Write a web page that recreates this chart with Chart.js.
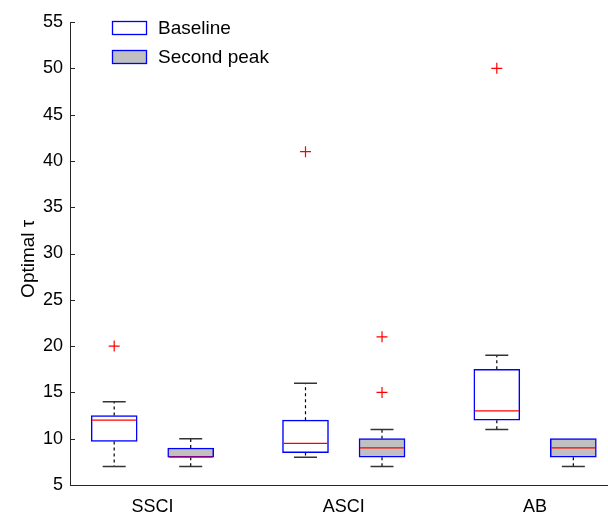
<!DOCTYPE html>
<html>
<head>
<meta charset="utf-8">
<script src="https://cdn.jsdelivr.net/npm/chart.js@4/dist/chart.umd.min.js"></script>
<style>
  html, body { margin: 0; padding: 0; background: #fff; }
  #wrap { width: 608px; height: 518px; position: relative; }
</style>
</head>
<body>
<div id="wrap"><canvas id="chart_optimalTau"></canvas></div>
<script>
var categories = ['SSCI', 'ASCI', 'AB'];
var groupPos = [1, 2, 3];
var boxOffset = 0.2;

var baselineMin = [7, 8, 11];
var baselineQ1 = [9.7, 8.5, 12];
var baselineMedian = [12, 9.5, 13];
var baselineQ3 = [12.5, 12, 17.5];
var baselineMax = [14, 16, 19];
var baselineOutliers = [[20], [41], [50]];

var secondMin = [7, 7, 7];
var secondQ1 = [8, 8, 8];
var secondMedian = [8, 9, 9];
var secondQ3 = [9, 10, 10];
var secondMax = [10, 11, 10];
var secondOutliers = [[], [21, 15], []];

var yTicks = [5, 10, 15, 20, 25, 30, 35, 40, 45, 50, 55];

var FONT = "'Liberation Sans', Arial, Helvetica, sans-serif";
var AXIS_COLOR = '#262626';

function boxData(off, q1, q3) {
  return groupPos.map(function (p, i) { return { x: p + off, y: [q1[i], q3[i]] }; });
}
function outlierData(off, list) {
  var out = [];
  groupPos.forEach(function (p, i) {
    list[i].forEach(function (v) { out.push({ x: p + off, y: v }); });
  });
  return out;
}

var boxPlugin = {
  id: 'boxWhiskers',
  beforeDatasetsDraw: function (chart) {
    var ctx = chart.ctx, ys = chart.scales.y;
    chart.data.datasets.forEach(function (ds, di) {
      if (!ds.stats) return;
      var meta = chart.getDatasetMeta(di);
      meta.data.forEach(function (bar, i) {
        var cx = bar.x, half = bar.width / 4;
        var pMax = ys.getPixelForValue(ds.stats.max[i]);
        var pMin = ys.getPixelForValue(ds.stats.min[i]);
        var pQ1 = ys.getPixelForValue(ds.stats.q1[i]);
        var pQ3 = ys.getPixelForValue(ds.stats.q3[i]);
        ctx.save();
        ctx.strokeStyle = '#000';
        ctx.lineWidth = 1.2;
        ctx.setLineDash([3, 3]);
        ctx.beginPath();
        if (ds.stats.max[i] > ds.stats.q3[i]) { ctx.moveTo(cx, pQ3); ctx.lineTo(cx, pMax); }
        if (ds.stats.min[i] < ds.stats.q1[i]) { ctx.moveTo(cx, pQ1); ctx.lineTo(cx, pMin); }
        ctx.stroke();
        ctx.setLineDash([]);
        ctx.strokeStyle = '#333';
        ctx.lineWidth = 1.5;
        ctx.beginPath();
        if (ds.stats.max[i] > ds.stats.q3[i]) { ctx.moveTo(cx - half, pMax); ctx.lineTo(cx + half, pMax); }
        if (ds.stats.min[i] < ds.stats.q1[i]) { ctx.moveTo(cx - half, pMin); ctx.lineTo(cx + half, pMin); }
        ctx.stroke();
        ctx.restore();
      });
    });
  },
  afterDatasetsDraw: function (chart) {
    var ctx = chart.ctx, ys = chart.scales.y;
    chart.data.datasets.forEach(function (ds, di) {
      if (!ds.stats) return;
      var meta = chart.getDatasetMeta(di);
      meta.data.forEach(function (bar, i) {
        var pMed = ys.getPixelForValue(ds.stats.median[i]);
        ctx.save();
        ctx.strokeStyle = '#ff0000';
        ctx.lineWidth = 1.3;
        ctx.beginPath();
        ctx.moveTo(bar.x - bar.width / 2 + 1, pMed);
        ctx.lineTo(bar.x + bar.width / 2 - 1, pMed);
        ctx.stroke();
        ctx.restore();
      });
    });
  },
  afterDraw: function (chart) {
    var ctx = chart.ctx, ys = chart.scales.y, area = chart.chartArea;
    ctx.save();
    // inward y ticks
    ctx.strokeStyle = AXIS_COLOR;
    ctx.lineWidth = 1;
    yTicks.forEach(function (v) {
      var py = Math.round(ys.getPixelForValue(v)) + 0.5;
      ctx.beginPath();
      ctx.moveTo(area.left, py);
      ctx.lineTo(area.left + 5, py);
      ctx.stroke();
    });
    // legend
    var lx = 112, ly = 21, rowH = 29;
    ctx.font = '19px ' + FONT;
    ctx.textBaseline = 'middle';
    chart.data.datasets.forEach(function (ds) {
      if (!ds.stats) return;
      ctx.fillStyle = ds.backgroundColor;
      ctx.fillRect(lx, ly, 35, 14);
      ctx.strokeStyle = ds.borderColor;
      ctx.lineWidth = 1.3;
      ctx.strokeRect(lx + 0.5, ly + 0.5, 34, 13);
      ctx.fillStyle = '#000';
      ctx.fillText(ds.label, lx + 46, ly + 8);
      ly += rowH;
    });
    ctx.restore();
  }
};

var chart_optimalTau = new Chart(document.getElementById('chart_optimalTau'), {
  type: 'bar',
  data: {
    datasets: [
      {
        label: 'Baseline',
        data: boxData(-boxOffset, baselineQ1, baselineQ3),
        stats: { min: baselineMin, q1: baselineQ1, median: baselineMedian, q3: baselineQ3, max: baselineMax },
        backgroundColor: '#ffffff',
        borderColor: '#0000ff',
        borderWidth: 1.5,
        borderSkipped: false,
        barThickness: 46,
        grouped: false
      },
      {
        label: 'Second peak',
        data: boxData(boxOffset, secondQ1, secondQ3),
        stats: { min: secondMin, q1: secondQ1, median: secondMedian, q3: secondQ3, max: secondMax },
        backgroundColor: '#c0c0c0',
        borderColor: '#0000ff',
        borderWidth: 1.5,
        borderSkipped: false,
        barThickness: 46,
        grouped: false
      },
      {
        type: 'scatter',
        label: 'Outliers',
        data: outlierData(-boxOffset, baselineOutliers).concat(outlierData(boxOffset, secondOutliers)),
        pointStyle: 'cross',
        radius: 5.5,
        borderColor: '#ff0000',
        backgroundColor: '#ff0000',
        borderWidth: 1.2
      }
    ]
  },
  options: {
    animation: false,
    responsive: true,
    maintainAspectRatio: false,
    layout: { autoPadding: false, padding: { top: 22, right: 1, left: 0, bottom: 0 } },
    plugins: {
      legend: { display: false },
      tooltip: { enabled: false }
    },
    scales: {
      x: {
        type: 'linear',
        offset: false,
        min: 0.569,
        max: 3.376,
        afterBuildTicks: function (scale) {
          scale.ticks = groupPos.map(function (v) { return { value: v }; });
        },
        afterFit: function (scale) { scale.height = 33; },
        ticks: {
          autoSkip: false,
          maxRotation: 0,
          padding: 11,
          color: '#000',
          font: { family: FONT, size: 18 },
          callback: function (value, index) { return categories[index]; }
        },
        grid: { display: true, drawOnChartArea: false, drawTicks: false, offset: false },
        border: { display: true, color: AXIS_COLOR, width: 1 }
      },
      y: {
        type: 'linear',
        min: 5,
        max: 55,
        afterBuildTicks: function (scale) {
          scale.ticks = yTicks.map(function (v) { return { value: v }; });
        },
        afterFit: function (scale) { scale.width = 70; },
        ticks: {
          padding: 7,
          color: '#000',
          font: { family: FONT, size: 18 }
        },
        grid: { display: true, drawOnChartArea: false, drawTicks: false },
        border: { display: true, color: AXIS_COLOR, width: 1 },
        title: {
          display: true,
          text: 'Optimal \u03c4\u00a0\u00a0',
          color: '#000',
          font: { family: FONT, size: 19 },
          padding: { top: 17, bottom: 0 }
        }
      }
    }
  },
  plugins: [boxPlugin, {
    id: 'whiteBackground',
    beforeDraw: function (chart) {
      var ctx = chart.canvas.getContext('2d');
      ctx.save();
      ctx.globalCompositeOperation = 'destination-over';
      ctx.fillStyle = 'white';
      ctx.fillRect(0, 0, chart.canvas.width, chart.canvas.height);
      ctx.restore();
    }
  }]
});
</script>
</body>
</html>
